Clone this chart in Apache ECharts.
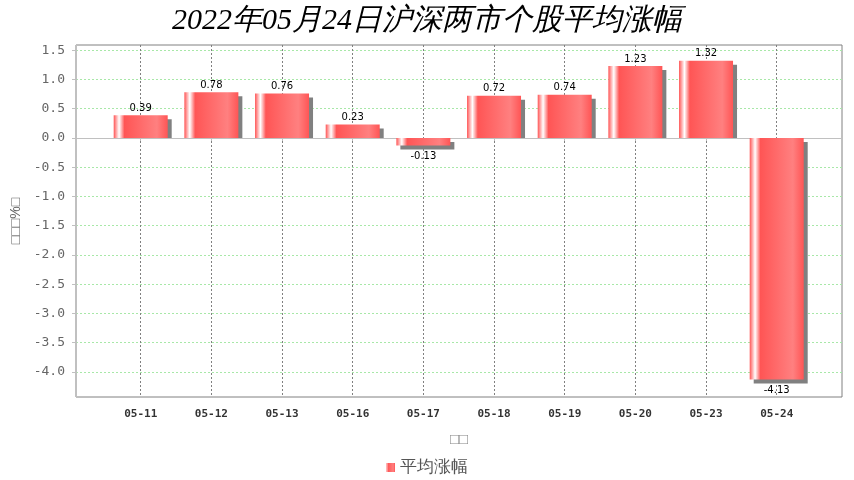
<!DOCTYPE html>
<html>
<head>
<meta charset="utf-8">
<script src="https://cdn.jsdelivr.net/npm/echarts@6/dist/echarts.min.js"></script>
<style>html,body{margin:0;padding:0;background:#fff;}#c{width:854px;height:480px;}</style>
</head>
<body>
<div id="c"></div>
<script>
var categories = ['05-11','05-12','05-13','05-16','05-17','05-18','05-19','05-20','05-23','05-24'];
var values = [0.39, 0.78, 0.76, 0.23, -0.13, 0.72, 0.74, 1.23, 1.32, -4.13];
var yTicks = [-4.0,-3.5,-3.0,-2.5,-2.0,-1.5,-1.0,-0.5,0.0,0.5,1.0,1.5];
var yMin = -4.43, yMax = 1.59;
var titleText = '2022年05月24日沪深两市个股平均涨幅';
var seriesName = '平均涨幅';
var yName = '□□□%□';
var xName = '□□';

var BAR_W = 54, SH = 4;
var chart = echarts.init(document.getElementById('c'));
var grad = {type:'linear',x:0,y:0,x2:1,y2:0,colorStops:[
  {offset:0,color:'#FF5555'},{offset:0.1,color:'#FFFFFF'},{offset:0.2,color:'#FF5555'},
  {offset:0.8,color:'#FF8080'},{offset:1,color:'#FF5555'}]};
var data = values.map(function(v){
  return {value:v, label:{position: v<0 ? 'bottom' : 'top', distance: v<0 ? 6 : 2}};
});
chart.setOption({
  animation:false,
  backgroundColor:'#ffffff',
  title:{text:titleText,left:'center',top:1,textStyle:{fontFamily:'Liberation Serif',fontStyle:'italic',fontWeight:'normal',fontSize:30,color:'#000'}},
  legend:{data:[seriesName],left:'center',top:454,icon:'rect',itemWidth:9,itemHeight:9,itemGap:5,
    textStyle:{fontSize:17,color:'#555',fontFamily:'Liberation Serif'}},
  grid:[
    {left:76,right:12,top:45,bottom:83,show:true,borderColor:'#808080',borderWidth:1,backgroundColor:'#fff'},
    {left:140.7,right:77.3,top:45,bottom:83}
  ],
  xAxis:[
    {gridIndex:0,type:'value',min:0,max:1,offset:4,
      axisLine:{show:true,lineStyle:{color:'#c0c0c0'}},axisTick:{show:false},axisLabel:{show:false},splitLine:{show:false},
      name:xName,nameLocation:'middle',nameGap:31,nameTextStyle:{color:'#888',fontSize:15}},
    {gridIndex:1,type:'category',data:categories,boundaryGap:false,offset:4,
      axisLine:{show:false},axisTick:{show:true,length:3,lineStyle:{color:'#c0c0c0'}},
      axisLabel:{color:'#333',fontSize:11,fontWeight:'bold',fontFamily:'DejaVu Sans Mono',margin:8},
      splitLine:{show:true,lineStyle:{color:'#808080',type:[2,2],width:1}}}
  ],
  yAxis:[
    {gridIndex:0,type:'value',min:yMin,max:yMax,offset:4,
      axisLine:{show:true,lineStyle:{color:'#c0c0c0'}},
      axisTick:{show:true,length:4,customValues:yTicks,lineStyle:{color:'#c0c0c0'}},
      axisLabel:{customValues:yTicks,color:'#666',fontSize:13,fontFamily:'DejaVu Sans Mono',margin:7,
        formatter:function(v){return v.toFixed(1);}},
      splitLine:{show:true,lineStyle:{color:'#a8e8a8',type:[2,2],width:1}},
      name:yName,nameLocation:'middle',nameGap:44,nameRotate:90,nameTextStyle:{color:'#666',fontSize:14}},
    {gridIndex:1,type:'value',min:yMin,max:yMax,show:false,splitLine:{show:false}}
  ],
  series:[{
    name:'shadow',type:'custom',xAxisIndex:1,yAxisIndex:1,z:1,silent:true,
    data:values.map(function(v,i){return [i,v];}),
    renderItem:function(params,api){
      var i = api.value(0), v = api.value(1);
      var p = api.coord([i, v]), b = api.coord([i, 0]);
      var x = p[0] - BAR_W/2 + SH, y, h;
      if (v >= 0) { y = p[1] + SH; h = b[1] - p[1] - SH; }
      else { y = b[1] + SH; h = p[1] - b[1]; }
      return {type:'rect',shape:{x:x,y:y,width:BAR_W,height:Math.max(h,0)},style:{fill:'#808080'}};
    }
  },{
    name:seriesName,type:'bar',xAxisIndex:1,yAxisIndex:1,barWidth:BAR_W,data:data,z:2,
    itemStyle:{color:grad},
    label:{show:true,color:'#000',fontSize:10,fontFamily:'DejaVu Sans',formatter:function(p){return p.value.toFixed(2);}}
  }]
});
</script>
</body>
</html>
